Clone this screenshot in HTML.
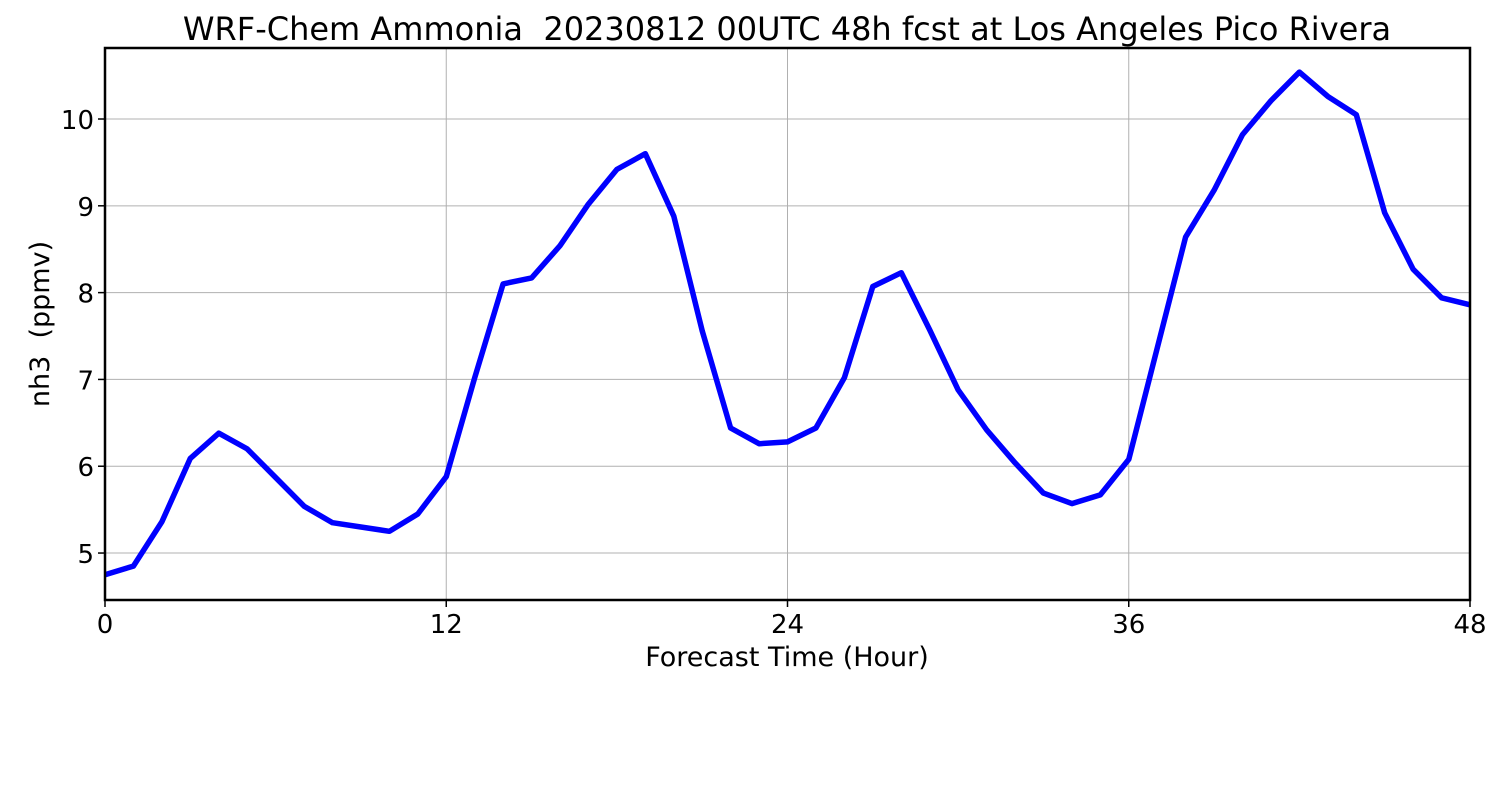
<!DOCTYPE html>
<html><head><meta charset="utf-8"><style>
body{margin:0;background:#fff;}
svg{font-family:"DejaVu Sans","Liberation Sans",sans-serif;}
text{white-space:pre;}
</style></head><body>
<svg id="chart" width="1500" height="800" xmlns="http://www.w3.org/2000/svg">
<rect width="1500" height="800" fill="#fff"/>
<text x="787" y="40" font-size="32" text-anchor="middle" xml:space="preserve">WRF-Chem Ammonia  20230812 00UTC 48h fcst at Los Angeles Pico Rivera</text>
<g id="grid"></g>
<g id="ticks"></g>
<path id="line" fill="none" stroke="#0000ff" stroke-width="5.5" stroke-linejoin="round"/>
<rect x="105" y="48" width="1365" height="552" fill="none" stroke="#000" stroke-width="2.5"/>
<text x="787" y="666" font-size="27" text-anchor="middle">Forecast Time (Hour)</text>
<text transform="translate(49,324) rotate(-90)" font-size="27" text-anchor="middle" xml:space="preserve">nh3  (ppmv)</text>
</svg>
<script>
const hours=[0,1,2,3,4,5,6,7,8,9,10,11,12,13,14,15,16,17,18,19,20,21,22,23,24,25,26,27,28,29,30,31,32,33,34,35,36,37,38,39,40,41,42,43,44,45,46,47,48];
const nh3=[4.75,4.85,5.36,6.09,6.38,6.20,5.87,5.54,5.35,5.30,5.25,5.45,5.88,7.02,8.10,8.17,8.54,9.02,9.42,9.60,8.88,7.56,6.44,6.26,6.28,6.44,7.02,8.07,8.23,7.57,6.88,6.42,6.04,5.69,5.57,5.67,6.08,7.36,8.64,9.18,9.82,10.21,10.54,10.26,10.05,8.92,8.27,7.94,7.86];
const xTicks=[0,12,24,36,48];
const yTicks=[5,6,7,8,9,10];
const X0=105,X1=1470,Y0=600,Y1=48,xMin=0,xMax=48,yMin=4.459,yMax=10.818;
const xs=v=>X0+(v-xMin)/(xMax-xMin)*(X1-X0);
const ys=v=>Y0-(v-yMin)/(yMax-yMin)*(Y0-Y1);
const NS='http://www.w3.org/2000/svg';
const grid=document.getElementById('grid'),ticks=document.getElementById('ticks');
function mk(t,a,p){const e=document.createElementNS(NS,t);for(const k in a)e.setAttribute(k,a[k]);p.appendChild(e);return e;}
xTicks.forEach(t=>{
 const g=mk('line',{x1:xs(t),x2:xs(t),y1:Y1,y2:Y0,stroke:'#b0b0b0','stroke-width':1},grid);
 
 
 const tk=mk('line',{x1:xs(t),x2:xs(t),y1:Y0,y2:Y0+7,stroke:'#000','stroke-width':1.5},ticks);
 
 
 const l=mk('text',{x:xs(t),y:Y0+33,'font-size':26,'text-anchor':'middle'},ticks);
 l.textContent=t;
 
 
});
yTicks.forEach(t=>{
 const g=mk('line',{x1:X0,x2:X1,y1:ys(t),y2:ys(t),stroke:'#b0b0b0','stroke-width':1},grid);
 
 
 const tk=mk('line',{x1:X0-7,x2:X0,y1:ys(t),y2:ys(t),stroke:'#000','stroke-width':1.5},ticks);
 
 
 const l=mk('text',{x:X0-11,y:ys(t)+10,'font-size':26,'text-anchor':'end'},ticks);
 l.textContent=t;
 
 
});
document.getElementById('line').setAttribute('d',hours.map((h,i)=>(i?'L':'M')+xs(h).toFixed(1)+','+ys(nh3[i]).toFixed(1)).join(''));
</script>
</body></html>
